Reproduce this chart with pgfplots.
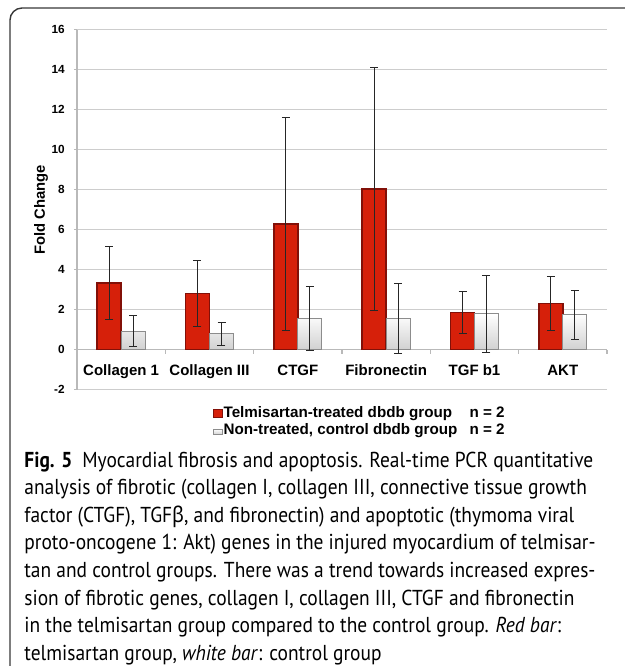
\documentclass[border=0pt]{standalone}
\usepackage{pgfplots}
\usepackage{pgfplotstable}
\pgfplotsset{compat=1.18}
\usepackage{fontspec}
\setmainfont{Liberation Sans}
\newfontfamily\capfont[FakeStretch=0.9]{PT Sans}
\newfontfamily\greekfont[FakeStretch=0.9]{Noto Sans}

\definecolor{barred}{RGB}{214,32,10}
\definecolor{barredline}{RGB}{130,16,8}
\definecolor{ctrlfill}{RGB}{243,243,243}
\definecolor{ctrlline}{RGB}{140,140,140}
\definecolor{gridgray}{RGB}{205,205,205}
\definecolor{axisgray}{RGB}{185,185,185}
\definecolor{framegray}{RGB}{55,55,55}

% fold change, mean and error, per gene
\pgfplotstableread{
x treat terr ctrl cerr
0 3.33 1.81 0.92 0.79
1 2.80 1.63 0.78 0.58
2 6.28 5.34 1.55 1.62
3 8.03 6.06 1.57 1.75
4 1.84 1.05 1.78 1.93
5 2.30 1.37 1.73 1.21
}\genedata

\begin{document}
\begin{tikzpicture}
\begin{scope}[x=0.5pt,y=-0.5pt]
  \useasboundingbox (0,0) rectangle (625,666);
  \begin{scope}
    \clip (0,0) rectangle (625,666);
    \draw[framegray, line width=0.7pt, rounded corners=6pt] (10,8) rectangle (680,690);
  \end{scope}
  % y axis title
  \node[rotate=90, font=\bfseries\fontsize{7.4}{8}\selectfont] at (41,210) {Fold Change};
  % caption
  \begin{scope}[every node/.style={anchor=base west, inner sep=0pt, font=\capfont\fontsize{10.8}{13.8}\selectfont}]
    \node at (24,467) {\textbf{Fig. 5}\hspace{5pt}Myocardial fibrosis and apoptosis. Real-time PCR quantitative};
    \node at (24,494.6) {analysis of fibrotic (collagen I, collagen III, connective tissue growth};
    \node at (24,522.2) {factor (CTGF), TGF{\greekfont β}, and fibronectin) and apoptotic (thymoma viral};
    \node at (24,549.8) {proto-oncogene 1: Akt) genes in the injured myocardium of telmisar-};
    \node at (24,577.4) {tan and control groups. There was a trend towards increased expres-};
    \node at (24,605) {sion of fibrotic genes, collagen I, collagen III, CTGF and fibronectin};
    \node at (24,632.6) {in the telmisartan group compared to the control group. \textit{Red bar}:};
    \node at (24,660.2) {telmisartan group, \textit{white bar}: control group};
  \end{scope}
\end{scope}

\begin{axis}[
  at={(38.5pt,-194.75pt)}, anchor=south west,
  scale only axis, width=265pt, height=180pt,
  ybar=0pt, bar width=12pt,
  xmin=-0.5, xmax=5.5, ymin=-2, ymax=16,
  axis x line=middle, axis y line=left,
  axis line style={-, axisgray, line width=0.6pt},
  hide obscured x ticks=false, hide obscured y ticks=false,
  ytick={-2,0,...,16},
  ymajorgrids, grid style={gridgray, line width=0.65pt},
  major tick length=1.6pt,
  tick align=outside,
  tick style={axisgray, line width=0.6pt},
  xtick={0,...,5},
  xticklabels={Collagen 1, Collagen III, CTGF, Fibronectin, TGF b1, AKT},
  xtick style={draw=none},
  extra x ticks={0.5,1.5,2.5,3.5,4.5,5.5},
  extra x tick labels={},
  extra x tick style={xtick style={draw=axisgray, line width=0.6pt}, major tick length=2pt, grid=none},
  /pgf/number format/assume math mode=true,
  yticklabel style={font=\bfseries\fontsize{5.9}{6.5}\selectfont, xshift=-1pt},
  xticklabel style={font=\bfseries\fontsize{7.5}{8}\selectfont, yshift=-2.5pt},
  legend style={at={(0.2566,-0.043)}, anchor=north west, draw=none, fill=none,
    inner sep=0pt, font=\bfseries\fontsize{7.6}{8}\selectfont,
    nodes={inner sep=0.6pt, text height=5.6pt, text depth=1.6pt}, row sep=0pt},
  legend cell align=left,
  clip=false,
  error bars/error bar style={black!85, line width=0.45pt},
  error bars/error mark=-,
  error bars/error mark options={rotate=90, black!85, mark size=2pt, line width=0.45pt},
]
\addplot[fill=barred, draw=barredline, line width=0.7pt,
  legend image code/.code={\fill[barred, draw=barredline, line width=0.3pt] (0pt,-2pt) rectangle (4.2pt,2pt);},
  error bars/.cd, y dir=both, y explicit]
  table[x=x, y=treat, y error=terr]{\genedata};
\addlegendentry{\makebox[123pt][l]{Telmisartan-treated dbdb group}n = 2}
\addplot[top color=white, bottom color=black!18, draw=ctrlline, line width=0.5pt,
  legend image code/.code={\fill[ctrlfill, draw=ctrlline, line width=0.3pt] (0pt,-2pt) rectangle (4.2pt,0.8pt);},
  error bars/.cd, y dir=both, y explicit]
  table[x=x, y=ctrl, y error=cerr]{\genedata};
\addlegendentry{\makebox[123pt][l]{Non-treated, control dbdb group}n = 2}
\end{axis}
\end{tikzpicture}
\end{document}
